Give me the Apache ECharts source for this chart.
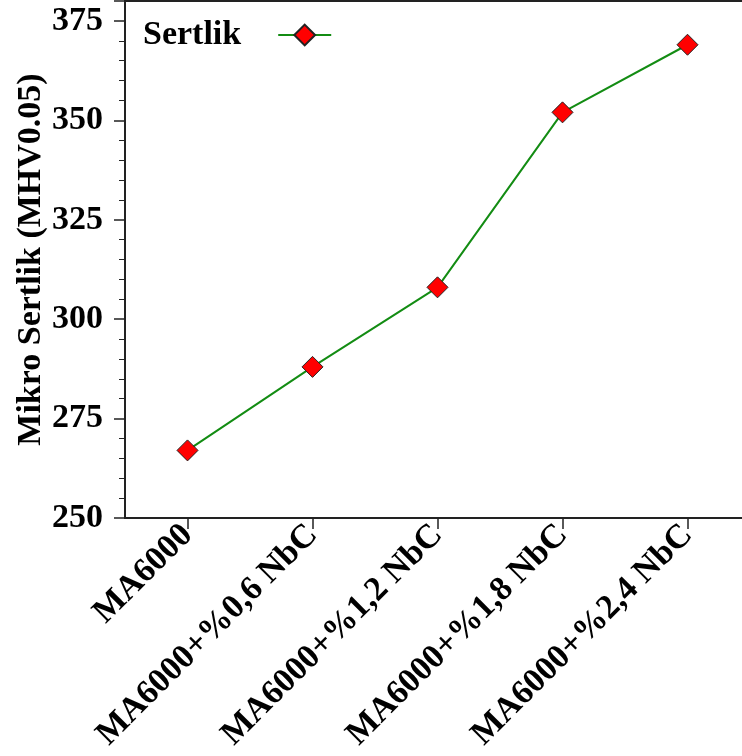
<!DOCTYPE html>
<html><head><meta charset="utf-8">
<script src="https://cdn.jsdelivr.net/npm/echarts@6/dist/echarts.min.js"></script>
<style>html,body{margin:0;padding:0;background:#fff}#c{width:742px;height:756px}</style>
</head><body><div id="c"></div>
<script>
var categories = ['MA6000', 'MA6000+%0,6 NbC', 'MA6000+%1,2 NbC', 'MA6000+%1,8 NbC', 'MA6000+%2,4 NbC'];
var hardness = [267, 288, 308, 352, 369];
var seriesName = 'Sertlik';
var yTitle = 'Mikro Sertlik (MHV0.05)';

var FONT = '"Liberation Serif", "Times New Roman", serif';
var chart = echarts.init(document.getElementById('c'), null, {renderer: 'canvas'});
chart.setOption({
  animation: false,
  grid: {left: 125, top: 1, width: 625, height: 517, show: true, borderColor: '#222', borderWidth: 2,
    containLabel: false, outerBoundsMode: 'none'},
  legend: {
    left: 138, top: 13, itemWidth: 53, itemHeight: 26, align: 'right', itemGap: 10,
    textStyle: {fontFamily: FONT, fontWeight: 'bold', fontSize: 34, color: '#000', padding: [0, 32, 0, 0]},
    data: [seriesName]
  },
  xAxis: {
    type: 'category', data: categories, boundaryGap: true,
    axisLine: {lineStyle: {color: '#222', width: 2}},
    axisTick: {show: true, alignWithLabel: true, length: 11, lineStyle: {color: '#222', width: 1.5}},
    axisLabel: {rotate: 45, interval: 0, margin: 12, fontFamily: FONT, fontWeight: 'bold', fontSize: 34, color: '#000'},
    splitLine: {show: false}
  },
  yAxis: {
    type: 'value', min: 250, max: 380, interval: 25,
    name: yTitle, nameLocation: 'middle', nameGap: 77, nameMoveOverlap: false,
    nameTextStyle: {fontFamily: FONT, fontWeight: 'bold', fontSize: 34, color: '#000'},
    axisLine: {show: true, lineStyle: {color: '#222', width: 2}},
    axisTick: {show: true, length: 11, lineStyle: {color: '#222', width: 1.5}},
    minorTick: {show: true, splitNumber: 5, length: 6, lineStyle: {color: '#222', width: 1}},
    axisLabel: {margin: 22, fontFamily: FONT, fontWeight: 'bold', fontSize: 34, color: '#000',
      formatter: function (v) { return v % 25 === 0 ? String(v) : ''; }},
    splitLine: {show: false}
  },
  series: [{
    name: seriesName, type: 'line', data: hardness,
    symbol: 'diamond', symbolSize: 21,
    lineStyle: {color: '#138c13', width: 2},
    itemStyle: {color: '#ff0000', borderColor: '#222', borderWidth: 1}
  }]
});
</script></body></html>
